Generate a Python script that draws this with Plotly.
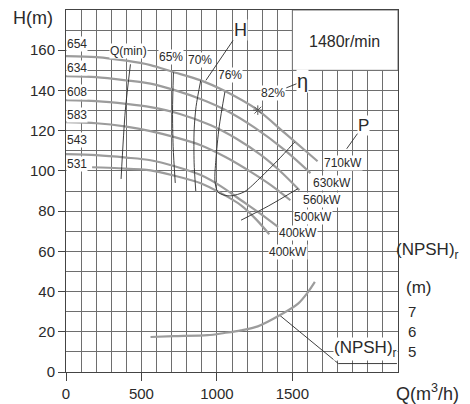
import plotly.graph_objects as go

# ---- H-Q curves (impeller diameters, mm) ----
Q654 = [0, 200, 400, 560, 704, 893, 1050, 1271, 1447, 1667]
H654 = [157.1, 156.6, 154.8, 152.6, 149.3, 145.0, 139.8, 130.2, 119.0, 104.8]
Q634 = [0, 200, 400, 560, 715, 900, 1050, 1250, 1450, 1620]
H634 = [147.1, 146.6, 145.0, 143.4, 140.3, 135.5, 130.5, 121.5, 110.3, 98.9]
Q608 = [0, 200, 400, 560, 760, 960, 1130, 1293, 1420, 1547]
H608 = [135.2, 134.7, 133.3, 131.7, 128.2, 122.7, 116.0, 107.8, 99.8, 90.4]
Q583 = [0, 200, 400, 560, 720, 893, 1060, 1227, 1360, 1487]
H583 = [124.2, 123.7, 122.0, 119.8, 116.8, 112.8, 106.8, 99.4, 92.8, 85.4]
Q543 = [0, 200, 400, 560, 720, 893, 1030, 1160, 1290, 1407]
H543 = [108.3, 107.8, 106.6, 105.3, 102.3, 97.9, 92.2, 85.4, 78.6, 72.0]
Q531 = [173, 350, 560, 720, 893, 1030, 1160, 1260, 1347]
H531 = [101.8, 101.3, 100.3, 97.6, 93.9, 88.8, 82.9, 75.9, 68.5]
curve_q = [Q654, Q634, Q608, Q583, Q543, Q531]
curve_h = [H654, H634, H608, H583, H543, H531]
diam_labels = ["654", "634", "608", "583", "543", "531"]
diam_label_h = [163.3, 151.2, 139.3, 127.7, 115.3, 103.5]
power_labels = ["710kW", "630kW", "560kW", "500kW", "400kW", "400kW"]
power_label_q = [1838, 1765, 1698, 1638, 1538, 1471]
power_label_h = [103.7, 94.0, 85.4, 77.1, 69.2, 59.7]

# ---- iso-efficiency lines ----
Qmin_q = [427, 393, 365]
Qmin_h = [153, 130, 96]
E65_q = [712, 706, 710, 724]
E65_h = [149, 130, 112, 94]
E70_q = [893, 862, 849, 849, 860]
E70_h = [145, 132, 120, 104, 90]
E70r_q = [1160, 1340, 1538]
E70r_h = [75.5, 82.5, 91.2]
E76_q = [1053, 1015, 993, 987, 1005, 1045, 1093, 1182, 1293, 1400, 1516]
E76_h = [139.3, 121.9, 105.3, 95.0, 89.6, 88.0, 87.6, 89.6, 97.0, 105.0, 114.4]
bep_q = [1271]
bep_h = [130.2]

# ---- NPSHr curve (m) ----
NPSH_q = [560, 716, 938, 1049, 1160, 1271, 1416, 1538, 1604, 1649]
NPSH_m = [5.74, 5.78, 5.83, 5.94, 6.07, 6.27, 6.82, 7.40, 7.98, 8.48]
npsh_leader_q = [1416, 1805, 2193]
npsh_leader_h = [28.2, 4.2, 4.2]

x_ticks = [0, 500, 1000, 1500]
y_ticks = [0, 20, 40, 60, 80, 100, 120, 140, 160]
npsh_ticks = [5, 6, 7]

GRID = "#6e6e6e"
CURVE = "#9c9c9c"
INK = "#2a2a2a"
FONT = "Liberation Sans, Arial, sans-serif"
NARROW = "Liberation Sans Narrow, Liberation Sans, Arial, sans-serif"

fig = go.Figure()
for q, h in zip(curve_q, curve_h):
    fig.add_trace(go.Scatter(x=q, y=h, mode="lines",
                             line=dict(color=CURVE, width=2.2, shape="spline", smoothing=0.8),
                             hoverinfo="skip", showlegend=False))
for q, h in [(Qmin_q, Qmin_h), (E65_q, E65_h), (E70_q, E70_h), (E70r_q, E70r_h), (E76_q, E76_h)]:
    fig.add_trace(go.Scatter(x=q, y=h, mode="lines",
                             line=dict(color=INK, width=0.9, shape="spline", smoothing=0.8),
                             hoverinfo="skip", showlegend=False))
fig.add_trace(go.Scatter(x=bep_q, y=bep_h, mode="markers",
                         marker=dict(symbol="asterisk-open", size=8, color="#555",
                                     line=dict(color="#555", width=1)),
                         hoverinfo="skip", showlegend=False))
fig.add_trace(go.Scatter(x=NPSH_q, y=NPSH_m, yaxis="y2", mode="lines",
                         line=dict(color=CURVE, width=2.2, shape="spline", smoothing=0.8),
                         hoverinfo="skip", showlegend=False))
fig.add_trace(go.Scatter(x=npsh_leader_q, y=npsh_leader_h, mode="lines",
                         line=dict(color=INK, width=0.9), hoverinfo="skip", showlegend=False))

# white box for speed label
fig.add_shape(type="rect", x0=1500, x1=2200, y0=150, y1=180, xref="x", yref="y",
              fillcolor="white", line=dict(color=GRID, width=1), layer="above")

ann = []
def lab(text, x, y, size=12, font=NARROW, bg="white", **kw):
    d = dict(text=text, x=x, y=y, xref="x", yref="y", showarrow=False,
             xanchor="center", yanchor="middle",
             font=dict(size=size, family=font, color=INK), bgcolor=bg, borderpad=0)
    d.update(kw)
    ann.append(d)

for t, hh in zip(diam_labels, diam_label_h):
    lab(t, 70, hh, size=12)
for t, qq, hh in zip(power_labels, power_label_q, power_label_h):
    lab(t, qq, hh, size=12)
lab("Q(min)", 416, 159.7, size=12)
lab("65%", 693, 156.7, size=12)
lab("70%", 889, 155.1, size=12)
lab("76%", 1089, 147.6, size=12)
lab("82%", 1371, 138.5, size=12)
lab("1480r/min", 1847, 164.2, size=16, font=FONT, bg=None)
lab("H", 927, 145, size=18, font=FONT, showarrow=True, ax=1153, ay=170, axref="x", ayref="y",
    arrowhead=0, arrowwidth=0.9, arrowcolor=INK, standoff=0)
lab("η", 1460, 141.3, size=20, font=FONT, showarrow=True, ax=1567, ay=144.5, axref="x",
    ayref="y", arrowhead=0, arrowwidth=0.9, arrowcolor=INK)
lab("P", 1860, 111.0, size=17, font=FONT, showarrow=True, ax=1971, ay=122.7, axref="x",
    ayref="y", arrowhead=0, arrowwidth=0.9, arrowcolor=INK)
lab("(NPSH)<sub>r</sub>", 1985, 11.2, size=17, font=FONT)

def outside(text, x, y, yref, size):
    ann.append(dict(text=text, xref="paper", yref=yref, x=x, y=y, showarrow=False,
                    xanchor="center", yanchor="middle",
                    font=dict(size=size, family=FONT, color=INK)))

outside("H(m)", -0.1, 0.978, "paper", 18)
outside("Q(m<sup>3</sup>/h)", 1.09, -0.058, "paper", 18)
outside("(NPSH)<sub>r</sub>", 1.09, 60.0, "y", 17)
outside("(m)", 1.063, 42.0, "y", 17)

fig.update_layout(
    width=470, height=404, margin=dict(l=66, r=72, t=10, b=32, autoexpand=False),
    paper_bgcolor="white", plot_bgcolor="white", showlegend=False,
    annotations=ann,
    xaxis=dict(range=[0, 2200], tickmode="array", tickvals=x_ticks, ticks="outside", ticklen=8,
               tickcolor="#444", showgrid=True, gridcolor=GRID, gridwidth=1, automargin=False,
               minor=dict(tickmode="linear", tick0=0, dtick=100, showgrid=True, gridcolor=GRID,
                          gridwidth=1, ticks=""),
               showline=True, linecolor="#444", linewidth=1, mirror=True, zeroline=False,
               tickfont=dict(size=15, family=FONT, color=INK)),
    yaxis=dict(range=[0, 180], tickmode="array", tickvals=y_ticks, ticks="outside", ticklen=7,
               tickcolor="#444", showgrid=True, gridcolor=GRID, gridwidth=1, automargin=False,
               minor=dict(tickmode="linear", tick0=0, dtick=10, showgrid=True, gridcolor=GRID,
                          gridwidth=1, ticks=""),
               showline=True, linecolor="#444", linewidth=1, mirror=True, zeroline=False,
               tickfont=dict(size=15, family=FONT, color=INK)),
    yaxis2=dict(overlaying="y", side="right", range=[4, 22], tickmode="array",
                tickvals=npsh_ticks, showgrid=False, zeroline=False, showline=False,
                ticks="", ticklabelstandoff=9, automargin=False,
                tickfont=dict(size=15, family=FONT, color=INK)),
)
fig.write_html("out.html")
